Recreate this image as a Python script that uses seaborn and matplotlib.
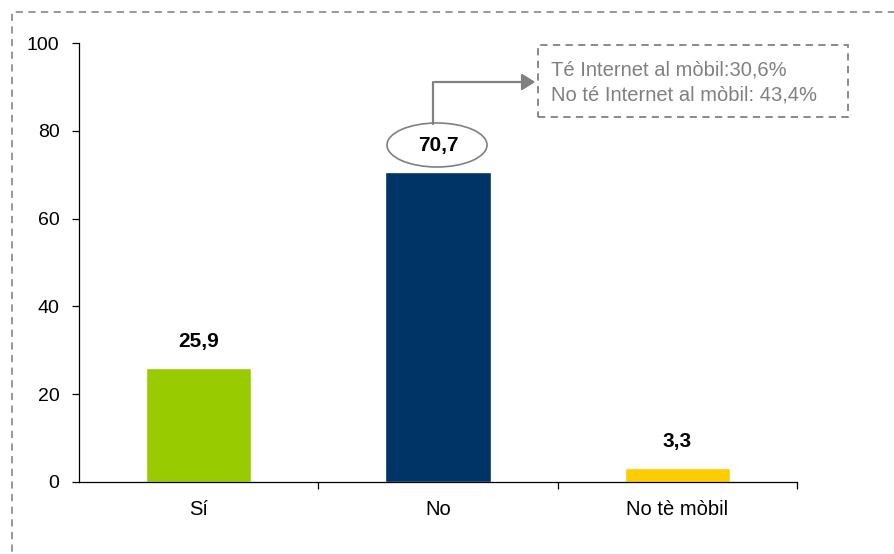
import matplotlib
matplotlib.use("Agg")
import matplotlib.pyplot as plt
import seaborn as sns
import pandas as pd
from matplotlib.patches import Ellipse, Rectangle

categories = ["Sí", "No", "No tè mòbil"]
values = [25.9, 70.7, 3.3]
colors = ["#99CC00", "#003366", "#FFCC00"]
value_labels = ["25,9", "70,7", "3,3"]
note_lines = ["Té Internet al mòbil:30,6%", "No té Internet al mòbil: 43,4%"]
yticks = [0, 20, 40, 60, 80, 100]

sns.set_theme(style="white")
plt.rcParams["font.family"] = ["Liberation Sans", "DejaVu Sans"]

df = pd.DataFrame({"cat": categories, "val": values})

fig = plt.figure(figsize=(8.95, 5.54), dpi=100)
ax = fig.add_axes([79/895, 1-482/554, (797-79)/895, (482-43)/554])

sns.barplot(data=df, x="cat", y="val", hue="cat", palette=colors, width=0.44,
            ax=ax, legend=False, saturation=1)

ax.set_xlim(-0.5, 2.5)
ax.set_ylim(0, 100)
ax.set_yticks(yticks)
ax.set_yticklabels([str(t) for t in yticks], fontsize=14, color="black")
ax.set_xticks(range(len(categories)))
ax.set_xticklabels(categories, fontsize=14.5, color="black")
ax.tick_params(axis="x", which="major", length=0, pad=13)
ax.set_xticks([0.5, 1.5, 2.5], minor=True)
ax.tick_params(axis="x", which="minor", length=5, width=0.9, color="black", direction="out", bottom=True)
ax.tick_params(axis="y", length=5, width=0.9, color="black", direction="out", left=True, pad=9)
ax.set_xlabel("")
ax.set_ylabel("")
for s in ["top", "right"]:
    ax.spines[s].set_visible(False)
for s in ["left", "bottom"]:
    ax.spines[s].set_color("black")
    ax.spines[s].set_linewidth(0.9)

for i, (v, lab) in enumerate(zip(values, value_labels)):
    ax.text(i, v + 6, lab, ha="center", va="center", fontsize=15, fontweight="bold", color="black")

# ellipse around the "No" label
ell = Ellipse((437/895, 1-145/554), 100/895, 44/554, transform=fig.transFigure,
              fill=False, edgecolor="#808080", linewidth=1.2)
fig.add_artist(ell)

# connector arrow
fig.add_artist(matplotlib.lines.Line2D([433/895, 433/895], [1-124/554, 1-82/554],
               transform=fig.transFigure, color="#808080", linewidth=1.6))
fig.patches.append(matplotlib.patches.FancyArrowPatch(
    (432/895, 1-82/554), (538/895, 1-82/554), transform=fig.transFigure,
    arrowstyle="-|>,head_length=8,head_width=5", mutation_scale=1,
    color="#808080", linewidth=1.6))

# dashed box
box = Rectangle((538/895, 1-117/554), (848-538)/895, (117-45)/554, transform=fig.transFigure,
                fill=False, edgecolor="#808080", linestyle=(0, (4, 3)), linewidth=1.3)
fig.add_artist(box)
fig.text(551/895, 1-70/554, note_lines[0], fontsize=14.5, color="#808080", va="center", ha="left")
fig.text(551/895, 1-95/554, note_lines[1], fontsize=14.5, color="#808080", va="center", ha="left")

# outer dashed frame
frame = Rectangle((12/895, -0.05), 1.0, 1-12/554 + 0.05, transform=fig.transFigure,
                  fill=False, edgecolor="#909090", linestyle=(0, (4, 3)), linewidth=1.3)
fig.add_artist(frame)

fig.savefig("out.png", dpi=100)
